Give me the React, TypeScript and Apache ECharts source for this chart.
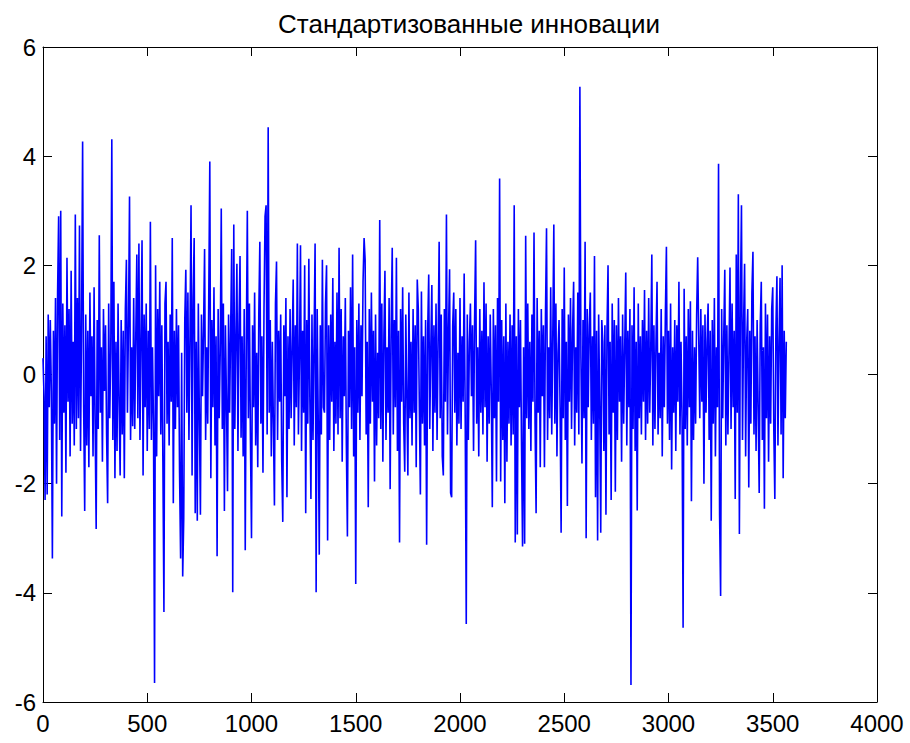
import React, { useEffect, useRef } from "react";
import * as echarts from "echarts";

const TITLE = "Стандартизованные инновации";
const STEP = 5;
const X_TICKS = [0, 500, 1000, 1500, 2000, 2500, 3000, 3500, 4000];
const Y_TICKS = [-6, -4, -2, 0, 2, 4, 6];

const seg0 = [0.3,-0.4,-2.3,0.7,-2.2,1.1,-0.6,1.0,-0.3,-3.37,0.8,-0.9,1.4,-2.0,1.5,2.9,-1.2,3.0,-2.6,1.3,-0.7,0.9,-1.8,2.14,-0.5,1.2,-1.5,1.9,-0.9,0.6,-1.3,2.93,-1.0,1.4,-0.8,2.73,-1.4,0.9,4.27,-0.6,-2.5,1.1,-1.3,0.8,-1.7,1.5,-0.4,0.7,-1.5,1.6,-0.9,-2.83,1.0,-1.0,2.55,-0.7,0.5,-1.6,1.2,-0.3,0.9,-1.1,-2.36,1.3,-0.8,0.4,4.31,-1.2,1.7,-1.9,0.6,-1.4,1.3,-0.5,-1.85,1.0,-1.1,0.8,-1.9,1.2,2.1,-0.7,0.9,3.26,-1.2,0.5,-0.95,1.4,-1.0,0.7];
const seg1 = [2.2,-0.8,2.4,-1.2,0.6,2.46,-1.85,1.1,-0.6,1.3,-1.4,0.8,-1.0,2.8,-1.2,0.5,-0.9,-5.65,2.0,-1.5,1.2,-0.4,1.7,-1.1,0.9,-1.6,-4.35,1.3,1.7,-0.9,0.6,-1.3,1.1,-0.5,2.5,-2.36,0.8,-1.0,1.2,-0.6,0.9,-1.8,-3.37,0.4,-3.7,-2.64,1.0,1.92,-0.7,1.5,-1.2,0.7,3.1,-1.85,1.4,2.5,-2.54,0.6,-2.68,1.3,-0.8,-2.57,1.1,-0.4,0.8,2.3,-1.2,0.5,-0.9,1.4,3.9,-1.9,1.0,-0.6,1.6,-1.3,0.7,-3.33,1.2,-0.8,0.4,3.04,-1.0,1.3,-2.5,0.9,-0.5,-2.14,1.1,-0.7];
const seg2 = [0.8,2.3,-3.99,2.75,-1.0,0.6,2.03,-1.4,0.9,2.17,-1.16,0.7,-1.5,1.2,-3.22,0.5,3.0,-0.8,1.3,-1.2,-3.0,0.9,-0.6,1.5,-1.3,0.4,-1.7,1.1,2.43,-0.9,0.7,-1.8,1.2,2.9,3.1,-1.1,4.53,-0.7,1.0,-1.5,0.6,-0.9,-2.4,1.3,2.07,-1.2,0.8,-0.5,1.1,-1.6,-2.7,0.9,-0.4,1.4,-2.25,0.7,-1.0,1.2,-0.8,0.5,1.74,-1.3,0.9,-0.6,2.4,-1.1,0.3,2.37,-1.4,0.8,-0.7,2.0,-2.54,1.0,-0.9,2.12,-0.5,-2.28,1.1,-1.2,0.6,2.4,-3.99,1.2,-0.8,-3.3,0.9,-1.1,2.1,-0.6];
const seg3 = [-0.7,1.3,2.0,-3.04,0.9,-1.2,1.1,-0.5,1.77,-1.4,0.6,-0.9,1.5,-1.1,2.32,-0.8,1.2,-1.6,0.7,-0.4,1.4,-1.3,-2.97,0.8,-0.6,1.6,-1.0,2.2,-1.5,0.5,-3.84,1.0,-0.7,1.3,-1.2,0.9,-0.4,1.7,2.5,2.1,-1.1,0.6,-2.43,1.2,-0.9,1.5,-0.5,0.8,-1.96,1.1,-1.3,0.4,-0.8,2.83,-1.0,1.3,-1.6,0.7,1.9,-1.2,0.5,-0.7,1.4,-2.1,0.9,2.32,-1.1,1.0,-0.6,2.14,-1.4,0.8,-3.08,1.2,-0.5,1.6,-0.9,-1.78,1.1,-0.4,-1.85,1.5,-0.8,0.6,-1.3,1.2,-0.7,0.9,-1.7,1.74];
const seg4 = [1.2,-0.6,-2.2,1.52,-0.9,0.7,-1.3,1.0,-3.12,0.8,1.83,-1.0,0.5,1.64,-1.4,0.9,-0.7,1.3,-1.2,0.6,2.43,-0.8,1.1,-1.5,-1.85,1.2,-0.5,2.93,-1.1,0.8,1.93,-2.17,-2.25,0.9,1.5,-0.7,1.2,-1.3,0.4,-0.9,1.4,-1.0,0.7,-0.5,1.85,-0.8,-4.57,1.1,-1.2,0.6,1.3,-0.4,0.9,-1.4,1.0,2.46,-0.9,0.5,-1.5,1.2,-0.7,0.8,-1.1,1.69,-0.6,1.3,-1.6,0.7,-0.9,1.1,-0.3,-2.43,1.2,-0.8,0.9,-1.96,1.4,-0.5,3.59,-1.96,1.0,-1.2,0.7,-2.36,1.3,-1.6,0.6,-0.9,1.1,-1.3];
const seg5 = [0.9,-1.1,3.1,-3.08,0.7,-2.93,1.2,-0.6,1.0,-1.3,-3.15,0.5,-3.1,2.54,-0.8,1.3,-1.0,0.6,-1.4,1.1,-0.5,2.6,-0.9,-2.54,1.4,-0.7,0.8,-1.7,1.2,-0.4,0.9,-1.7,1.1,2.68,-1.2,0.5,-0.8,1.6,-1.1,0.7,2.75,-0.9,1.3,-1.5,0.4,1.0,-0.6,-2.9,1.2,-0.8,1.96,-1.2,0.6,-2.41,1.1,-0.5,1.4,-1.0,0.8,1.7,-1.3,0.5,-0.7,1.5,-1.1,5.27,0.3,-1.63,1.0,-0.8,2.43,-3.0,1.2,-0.6,0.9,1.5,-1.2,0.7,-0.9,2.17,-2.25,0.8,-3.04,1.1,-0.5,-2.9,1.0,0.6,-1.4,0.9];
const seg6 = [-2.57,0.8,2.0,-1.1,0.6,-2.3,1.3,-0.7,1.0,-2.15,0.9,-1.2,1.4,-0.5,0.7,-1.6,1.1,-0.9,0.5,1.87,-1.3,0.8,-0.6,1.2,-5.69,0.9,-1.0,1.6,-1.4,0.6,-2.49,1.3,-0.8,0.7,-1.1,1.0,-0.5,1.55,-1.2,0.8,-0.9,1.4,-0.7,0.5,2.2,-1.3,0.9,-1.0,0.6,1.7,-1.1,0.4,-0.8,1.2,-1.5,0.7,-0.6,1.1,2.34,-0.9,0.8,-1.2,1.3,-1.74,0.5,-0.7,1.0,-1.4,0.9,-0.5,1.7,-1.1,0.6,-0.8,-4.64,1.57,-1.0,0.7,-1.3,1.2,-0.6,1.34,-2.32,0.8,-1.2,0.5,-0.9,1.1,2.15,0.7];
const seg7 = [-0.8,1.2,-0.5,0.9,-2.0,1.1,-0.7,0.6,1.3,-1.2,0.8,-2.68,1.0,-0.9,1.4,-1.5,0.5,-0.6,3.86,-2.57,-4.06,1.2,-0.8,0.7,1.92,-1.3,0.9,-1.1,0.4,1.96,-1.0,1.3,-0.6,0.8,-2.28,2.2,-0.7,3.3,-2.92,1.4,3.1,-1.2,0.9,2.03,-1.5,0.6,1.2,-2.07,0.8,-0.9,1.5,2.25,-1.1,0.7,-1.4,1.0,-0.6,-2.17,0.9,1.7,-1.2,0.5,-2.46,1.3,-0.8,1.1,-1.6,0.7,-0.9,1.2,1.6,-1.0,-2.28,0.8,1.8,-1.3,0.6,1.77,-1.1,2.0,-1.9,0.8,-0.8,0.6];

const VALUES = [...seg0, ...seg1, ...seg2, ...seg3, ...seg4, ...seg5, ...seg6, ...seg7];

const FONT = "'Liberation Sans', Arial, Helvetica, sans-serif";

export default function App() {
  const ref = useRef<HTMLDivElement>(null);
  useEffect(() => {
    if (!ref.current) return;
    const chart = echarts.init(ref.current, undefined, { renderer: "svg" });
    const data = VALUES.map((v, i) => [i * STEP, v]);
    const axisLine = { show: true, onZero: false, lineStyle: { color: "#000", width: 1 } };
    const tick = { show: true, inside: true, length: 9, lineStyle: { color: "#000", width: 1 } };
    const fmt = (v: number) => String(v);
    chart.setOption({
      animation: false,
      backgroundColor: "#fff",
      title: {
        text: TITLE,
        left: 464,
        top: 6,
        textAlign: "center",
        textStyle: { fontFamily: FONT, fontSize: 26, fontWeight: "normal", color: "#000" },
      },
      grid: { left: 43, right: 33, top: 47, bottom: 41, containLabel: false },
      xAxis: [
        {
          type: "value",
          min: X_TICKS[0],
          max: X_TICKS[X_TICKS.length - 1],
          interval: 500,
          position: "bottom",
          axisLine,
          axisTick: tick,
          splitLine: { show: false },
          axisLabel: { fontFamily: FONT, fontSize: 24, color: "#000", margin: 9, formatter: fmt },
        },
        {
          type: "value",
          min: X_TICKS[0],
          max: X_TICKS[X_TICKS.length - 1],
          interval: 500,
          position: "top",
          axisLine,
          axisTick: tick,
          splitLine: { show: false },
          axisLabel: { show: false },
        },
      ],
      yAxis: [
        {
          type: "value",
          min: Y_TICKS[0],
          max: Y_TICKS[Y_TICKS.length - 1],
          interval: 2,
          position: "left",
          axisLine,
          axisTick: tick,
          splitLine: { show: false },
          axisLabel: { fontFamily: FONT, fontSize: 24, color: "#000", margin: 7, formatter: fmt },
        },
        {
          type: "value",
          min: Y_TICKS[0],
          max: Y_TICKS[Y_TICKS.length - 1],
          interval: 2,
          position: "right",
          axisLine,
          axisTick: tick,
          splitLine: { show: false },
          axisLabel: { show: false },
        },
      ],
      series: [
        {
          type: "line",
          data,
          xAxisIndex: 0,
          yAxisIndex: 0,
          showSymbol: false,
          symbol: "none",
          lineStyle: { color: "#0000ff", width: 1.6 },
          emphasis: { disabled: true },
        },
      ],
    });
    return () => chart.dispose();
  }, []);
  return (
    <div
      ref={ref}
      style={{ position: "fixed", left: 0, top: 0, width: 910, height: 743, background: "#fff" }}
    />
  );
}
